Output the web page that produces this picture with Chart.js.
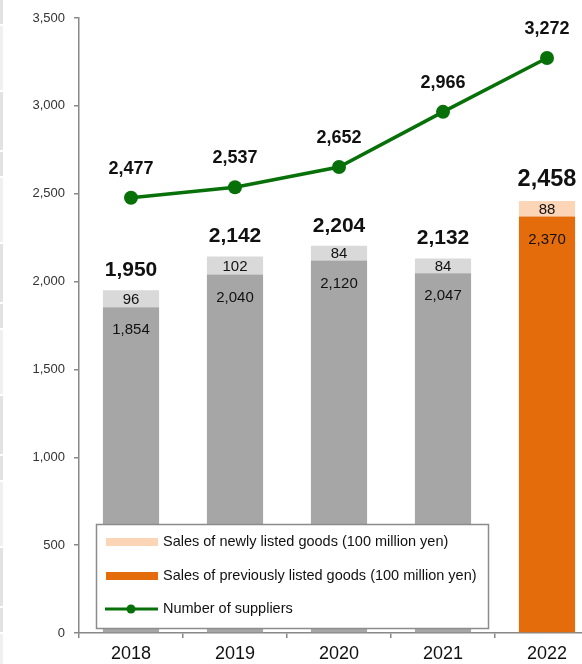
<!DOCTYPE html>
<html>
<head>
<meta charset="utf-8">
<script src="https://cdn.jsdelivr.net/npm/chart.js@4"></script>
<style>
  html, body { margin: 0; padding: 0; background: #fff; overflow: hidden; }
  #wrap { position: relative; width: 606px; height: 664px; }
  #strip {
    position: absolute; left: 0; top: 0; width: 3px; height: 664px;
    background: repeating-linear-gradient(#e2e2e2 0 24px, #fff 24px 26px, #f0f0f0 26px 90px, #fff 90px 92px, #e2e2e2 92px 150px, #fff 150px 152px);
  }
</style>
</head>
<body>
<div id="wrap"><canvas id="salesChart" width="606" height="664"></canvas><div id="strip"></div></div>
<script>
const years = ['2018', '2019', '2020', '2021', '2022'];
const previousSales = [1854, 2040, 2120, 2047, 2370];  // previously listed goods
const newSales = [96, 102, 84, 84, 88];                // newly listed goods
const totalSales = [1950, 2142, 2204, 2132, 2458];
const suppliers = [2477, 2537, 2652, 2966, 3272];
const yTicks = [0, 500, 1000, 1500, 2000, 2500, 3000, 3500];

const fmt = v => v.toLocaleString('en-US');
const FONT = '"Liberation Sans", Arial, sans-serif';

// colours: grey for past years, orange for the latest one
const prevColors = years.map((y, i) => i === years.length - 1 ? '#E46C0A' : '#A6A6A6');
const newColors = years.map((y, i) => i === years.length - 1 ? '#FBD5B5' : '#D9D9D9');
const lineColor = '#087008';

// Value labels drawn on top of the marks
const labelPlugin = {
    id: 'valueLabels',
    afterDatasetsDraw(chart) {
        const ctx = chart.ctx;
        const prevMeta = chart.getDatasetMeta(0);
        const newMeta = chart.getDatasetMeta(1);
        const lineMeta = chart.getDatasetMeta(2);
        ctx.save();
        ctx.textAlign = 'center';
        ctx.textBaseline = 'middle';
        ctx.fillStyle = '#111';
        years.forEach((y, i) => {
            const pb = prevMeta.data[i];
            const nb = newMeta.data[i];
            ctx.font = '15px ' + FONT;
            ctx.fillText(fmt(previousSales[i]), pb.x, pb.y + 23);
            ctx.fillText(fmt(newSales[i]), nb.x, (nb.y + pb.y) / 2 + 1);
            const last = i === years.length - 1;
            ctx.font = 'bold ' + (last ? 23.5 : 21) + 'px ' + FONT;
            ctx.fillText(fmt(totalSales[i]), nb.x, nb.y - (last ? 22 : 20));
            const pt = lineMeta.data[i];
            ctx.font = 'bold 18px ' + FONT;
            ctx.fillText(fmt(suppliers[i]), pt.x, pt.y - 29);
        });
        ctx.restore();
    }
};

// Boxed legend sitting inside the plot area
const boxLegendPlugin = {
    id: 'boxLegend',
    afterDraw(chart) {
        const ctx = chart.ctx;
        const x0 = 96, y0 = 524, w = 392, h = 104;
        ctx.save();
        ctx.fillStyle = '#fff';
        ctx.fillRect(x0, y0, w, h);
        ctx.strokeStyle = '#8c8c8c';
        ctx.lineWidth = 1.5;
        ctx.strokeRect(x0 + 0.5, y0 + 0.5, w, h);
        const rows = [
            { label: chart.data.datasets[1].label, color: '#FBD5B5', y: y0 + 18 },
            { label: chart.data.datasets[0].label, color: '#E46C0A', y: y0 + 52 },
            { label: chart.data.datasets[2].label, color: lineColor, y: y0 + 85, line: true }
        ];
        ctx.font = '14.5px ' + FONT;
        ctx.textBaseline = 'middle';
        rows.forEach(r => {
            if (r.line) {
                ctx.strokeStyle = r.color;
                ctx.lineWidth = 3;
                ctx.beginPath();
                ctx.moveTo(105, r.y);
                ctx.lineTo(158, r.y);
                ctx.stroke();
                ctx.fillStyle = r.color;
                ctx.beginPath();
                ctx.arc(131, r.y, 4.5, 0, Math.PI * 2);
                ctx.fill();
            } else {
                ctx.fillStyle = r.color;
                ctx.fillRect(106, r.y - 4, 52, 8);
            }
            ctx.fillStyle = '#111';
            ctx.fillText(r.label, 163, r.y);
        });
        ctx.restore();
    }
};

new Chart(document.getElementById('salesChart'), {
    type: 'bar',
    data: {
        labels: years,
        datasets: [
            {
                label: 'Sales of previously listed goods (100 million yen)',
                data: previousSales,
                backgroundColor: prevColors,
                stack: 'sales',
                order: 2
            },
            {
                label: 'Sales of newly listed goods (100 million yen)',
                data: newSales,
                backgroundColor: newColors,
                stack: 'sales',
                order: 2
            },
            {
                type: 'line',
                label: 'Number of suppliers',
                data: suppliers,
                borderColor: lineColor,
                backgroundColor: lineColor,
                borderWidth: 3.5,
                pointRadius: 7,
                pointBackgroundColor: lineColor,
                pointBorderWidth: 0,
                tension: 0,
                order: 1
            }
        ]
    },
    options: {
        responsive: false,
        animation: false,
        layout: { padding: { top: 18, right: 2, left: 0, bottom: 0 } },
        datasets: {
            bar: { categoryPercentage: 1, barPercentage: 0.54 }
        },
        plugins: {
            legend: { display: false },
            tooltip: { enabled: false }
        },
        scales: {
            x: {
                stacked: true,
                afterFit: scale => { scale.height = 31; },
                border: { color: '#888', width: 1.5 },
                grid: { drawOnChartArea: false, offset: true, color: '#888', lineWidth: 1.5, tickLength: 5 },
                ticks: {
                    color: '#111',
                    padding: 5,
                    font: { family: FONT, size: 18 }
                }
            },
            y: {
                stacked: true,
                min: 0,
                max: 3500,
                afterFit: scale => { scale.width = 79; },
                afterBuildTicks: scale => { scale.ticks = yTicks.map(v => ({ value: v })); },
                border: { color: '#888', width: 1.5 },
                grid: { drawOnChartArea: false, color: '#888', lineWidth: 1.5, tickLength: 5 },
                ticks: {
                    color: '#333',
                    padding: 9,
                    font: { family: FONT, size: 13 },
                    callback: v => fmt(v)
                }
            }
        }
    },
    plugins: [labelPlugin, boxLegendPlugin]
});
</script>
</body>
</html>
